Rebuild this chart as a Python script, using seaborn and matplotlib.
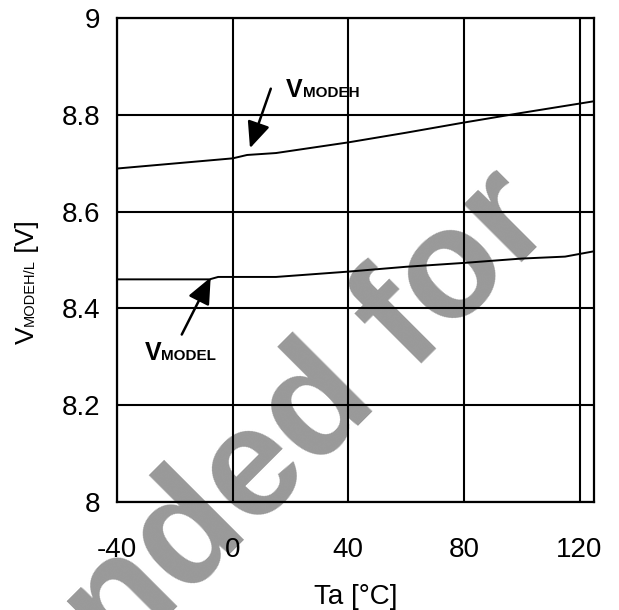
import matplotlib
matplotlib.use('Agg')
import matplotlib.pyplot as plt
import seaborn as sns
from matplotlib.transforms import IdentityTransform

# values
ta_h = [-40, 0, 5, 15, 40, 60, 80, 100, 125]
v_h = [8.689, 8.710, 8.717, 8.721, 8.743, 8.763, 8.784, 8.804, 8.828]
ta_l = [-40, -8, -5, 0, 15, 40, 60, 80, 100, 115, 125]
v_l = [8.460, 8.460, 8.465, 8.465, 8.465, 8.476, 8.486, 8.494, 8.503, 8.507, 8.518]

x_ticks = [-40, 0, 40, 80, 120]
y_ticks = [8, 8.2, 8.4, 8.6, 8.8, 9]
y_tick_labels = ['8', '8.2', '8.4', '8.6', '8.8', '9']

sns.set_theme(style='white')
plt.rcParams['font.family'] = ['Liberation Sans', 'DejaVu Sans']
plt.rcParams['axes.unicode_minus'] = False

W, H = 619, 610
fig = plt.figure(figsize=(W / 100, H / 100), dpi=100)
ax = fig.add_axes([117 / W, 1 - 502 / H, (594 - 117) / W, (502 - 18) / H])
ax.patch.set_alpha(0)

# watermark behind everything
fig.text(558 / W, 1 - 226 / H, 'Not Recommended for', fontsize=112, fontweight='bold',
         color='#999999', rotation=45, rotation_mode='anchor', ha='right', va='baseline',
         zorder=-1)

sns.lineplot(x=ta_h, y=v_h, ax=ax, color='black', lw=1.4)
sns.lineplot(x=ta_l, y=v_l, ax=ax, color='black', lw=1.4)

ax.set_xlim(-40, 125)
ax.set_ylim(8, 9)
ax.set_xticks(x_ticks)
ax.set_yticks(y_ticks)
ax.set_yticklabels(y_tick_labels)
ax.grid(True, color='black', lw=1.5)
ax.set_axisbelow(True)
for s in ax.spines.values():
    s.set_color('black')
    s.set_linewidth(1.6)
ax.tick_params(axis='both', length=0, labelsize=20, colors='black')
ax.tick_params(axis='y', pad=12)
ax.tick_params(axis='x', pad=25)
ax.set_xlabel('Ta [°C]', fontsize=20, labelpad=15, color='black')

r = fig.canvas.get_renderer()


def seq_text(x, y, parts, vertical=False):
    # strings drawn one after another on a common baseline (display pixels)
    pos = 0
    for s, size, weight in parts:
        if vertical:
            t = fig.text(x, y + pos, s, transform=IdentityTransform(), fontsize=size,
                         fontweight=weight, rotation=90, rotation_mode='anchor',
                         ha='left', va='baseline', color='black')
            pos += t.get_window_extent(r).height
        else:
            t = fig.text(x + pos, y, s, transform=IdentityTransform(), fontsize=size,
                         fontweight=weight, ha='left', va='baseline', color='black')
            pos += t.get_window_extent(r).width
    return pos


# y label V_MODEH/L [V]
ylab = [('V', 19, 'normal'), ('MODEH/L', 10.5, 'normal'), (' [V]', 19, 'normal')]
tmp = seq_text(-1000, -1000, ylab, vertical=True)
for t in fig.texts[-3:]:
    t.remove()
seq_text(34, (H - 282) - tmp / 2, ylab, vertical=True)

# curve labels with arrows
ax.annotate('', xy=(6.0, 8.731), xytext=(13.2, 8.854),
            arrowprops=dict(arrowstyle='-|>,head_length=0.8,head_width=0.35', color='black',
                            lw=1.8, mutation_scale=20, shrinkA=0, shrinkB=0))
ax.annotate('', xy=(-7.6, 8.464), xytext=(-17.6, 8.346),
            arrowprops=dict(arrowstyle='-|>,head_length=0.8,head_width=0.35', color='black',
                            lw=1.8, mutation_scale=20, shrinkA=0, shrinkB=0))

px, py = ax.transData.transform((18.5, 8.837))
seq_text(px, py, [('V', 18, 'bold'), ('MODEH', 11, 'bold')])
px, py = ax.transData.transform((-30.5, 8.293))
seq_text(px, py, [('V', 18, 'bold'), ('MODEL', 11, 'bold')])

fig.savefig('out.png', dpi=100)
